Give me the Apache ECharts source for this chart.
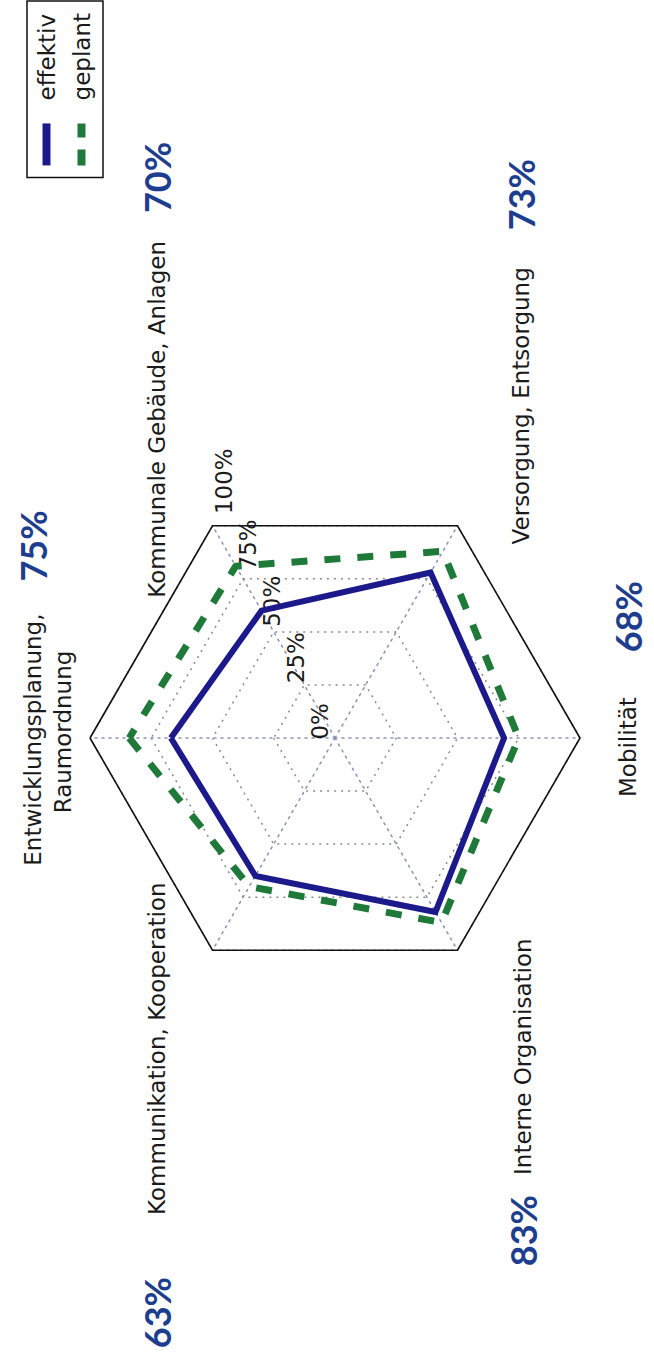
<!DOCTYPE html>
<html><head><meta charset="utf-8">
<script src="https://cdn.jsdelivr.net/npm/echarts@6/dist/echarts.min.js"></script>
<style>
html,body{margin:0;padding:0;width:654px;height:1352px;overflow:hidden;background:#fff;}
#rot{position:absolute;left:0;top:0;width:1352px;height:654px;transform-origin:0 0;transform:translateY(1352px) rotate(-90deg);}
#chart{width:1352px;height:654px;}
</style></head><body>
<div id="rot"><div id="chart"></div></div>
<script>
// ---- data (indicator order: counter-clockwise starting at top) ----
const categories = [
  ['Entwicklungsplanung,', 'Raumordnung'],
  ['Kommunikation, Kooperation'],
  ['Interne Organisation'],
  ['Mobilität'],
  ['Versorgung, Entsorgung'],
  ['Kommunale Gebäude, Anlagen']
];
const effektiv = [67, 65, 82, 69, 78, 60];
const geplant  = [84, 70, 87, 75, 88, 81];
const shares   = ['75%', '63%', '83%', '68%', '73%', '70%'];
const radialTicks = ['0%', '25%', '50%', '75%', '100%'];
const seriesNames = ['effektiv', 'geplant'];

// ---- label layout (styling only) ----
const nameLayout = [
  {side: 'right', gap: 32, spacers: [[100, 0], [12, 0]], top: 138, bottom: 0},
  {side: 'left',  gap: 62, spacers: [[0, 138]], top: 0, bottom: 0},
  {side: 'left',  gap: 20, spacers: [[0, 112]], top: 20, bottom: 0},
  {side: 'right', gap: 45, spacers: [[98, 0]], top: 0, bottom: 126},
  {side: 'right', gap: 37, spacers: [[156, 0]], top: 16, bottom: 0},
  {side: 'right', gap: 28, spacers: [[120, 0]], top: 0, bottom: 0}
];

const BLUE = '#1c1a8a', GREEN = '#1f7a3a', PCT = '#1d3e8e', TXT = '#1a1a1a';
const FONT = 'DejaVu Sans';

const rich = {
  n: {fontFamily: FONT, fontSize: 23, color: TXT, lineHeight: 30},
  p: {fontFamily: 'Lato', fontWeight: 'bold', fontSize: 36, color: PCT, lineHeight: 30}
};
nameLayout.forEach((L, i) => {
  rich['g' + i] = {width: L.gap, fontSize: 10, lineHeight: 10};
  if (L.top) rich['t' + i] = {fontSize: 10, lineHeight: L.top};
  if (L.bottom) rich['b' + i] = {fontSize: 10, lineHeight: L.bottom};
  L.spacers.forEach((sp, k) => {
    if (sp[0]) rich['sl' + i + '_' + k] = {width: sp[0], fontSize: 10, lineHeight: 10};
    if (sp[1]) rich['sr' + i + '_' + k] = {width: sp[1], fontSize: 10, lineHeight: 10};
  });
});
const indicatorNames = categories.map(c => c.join(' '));
function buildName(i) {
  const L = nameLayout[i];
  const out = [];
  if (L.top) out.push('{t' + i + '| }');
  categories[i].forEach((txt, k) => {
    const sp = L.spacers[k] || [0, 0];
    let s = '';
    if (sp[0]) s += '{sl' + i + '_' + k + '| }';
    if (k === 0 && L.side === 'left') s += '{p|' + shares[i] + '}{g' + i + '| }';
    s += '{n|' + txt + '}';
    if (k === 0 && L.side === 'right') s += '{g' + i + '| }{p|' + shares[i] + '}';
    if (sp[1]) s += '{sr' + i + '_' + k + '| }';
    out.push(s);
  });
  if (L.bottom) out.push('{b' + i + '| }');
  return out.join('\n');
}

const CENTER = [614, 335], R = 245;
const chart = echarts.init(document.getElementById('chart'), null, {renderer: 'svg'});
chart.setOption({
  animation: false,
  backgroundColor: '#ffffff',
  legend: {
    orient: 'vertical', right: 1, top: 27,
    data: [
      {name: seriesNames[0], icon: 'rect'},
      {name: seriesNames[1], icon: 'path://M0,0h16v8h-16zM28,0h14v8h-14z'}
    ],
    itemWidth: 42, itemHeight: 8, itemGap: 12,
    textStyle: {fontFamily: FONT, fontSize: 23, color: TXT, padding: [0, 0, 0, 18]},
    borderColor: '#111', borderWidth: 1.5, padding: [8, 12, 10, 12],
    selectedMode: false,
    itemStyle: {borderWidth: 0}
  },
  radar: [
    {
      center: CENTER, radius: R, startAngle: 90, shape: 'polygon', splitNumber: 4,
      indicator: indicatorNames.map(n => ({name: n, min: 0, max: 100})),
      nameGap: 111,
      axisName: {
        formatter: (value) => buildName(indicatorNames.indexOf(value)),
        color: TXT, fontFamily: FONT, fontSize: 23,
        align: 'center', verticalAlign: 'middle', rich: rich
      },
      axisLine: {lineStyle: {color: '#8e8eb8', type: [2, 5], width: 1.5}},
      splitLine: {lineStyle: {color: '#8a8a8a', type: [2, 5], width: 1.5}},
      splitArea: {show: false},
      axisTick: {show: false},
      axisLabel: {show: false}
    },
    {
      center: CENTER, radius: R, startAngle: 90, shape: 'polygon', splitNumber: 1,
      indicator: indicatorNames.map(() => ({name: '', min: 0, max: 100})),
      axisName: {show: false},
      axisLine: {show: false},
      splitLine: {lineStyle: {color: '#111', width: 1.6, type: 'solid'}},
      splitArea: {show: false}
    }
  ],
  polar: {center: CENTER, radius: R},
  angleAxis: {type: 'value', min: 0, max: 360, startAngle: 23, show: false},
  radiusAxis: {
    type: 'value', min: 0, max: 100, interval: 25,
    axisLine: {show: false}, axisTick: {show: false}, splitLine: {show: false},
    axisLabel: {
      formatter: (v, idx) => radialTicks[idx],
      showMinLabel: true, showMaxLabel: true,
      fontFamily: FONT, fontSize: 23, color: TXT,
      margin: 4, align: 'left', verticalAlign: 'bottom'
    }
  },
  series: [{
    type: 'radar', radarIndex: 0, symbol: 'none', silent: true,
    data: [
      {name: seriesNames[0], value: effektiv,
       lineStyle: {color: BLUE, width: 6, join: 'miter'}, itemStyle: {color: BLUE}},
      {name: seriesNames[1], value: geplant,
       lineStyle: {color: GREEN, width: 7, type: [16, 17]}, itemStyle: {color: GREEN}}
    ]
  }]
});
</script>
</body></html>
